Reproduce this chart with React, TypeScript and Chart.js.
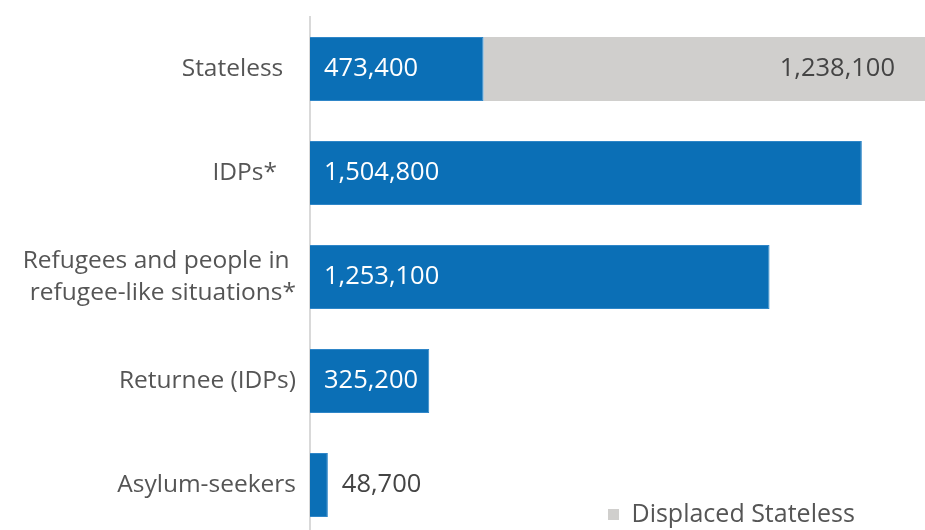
import React, { useEffect, useRef } from "react";
import { Chart, registerables } from "chart.js";

Chart.register(...registerables);

const categories: (string | string[])[] = [
  "Stateless  ",
  "IDPs*   ",
  ["Refugees and people in ", "refugee-like situations*"],
  "Returnee (IDPs)",
  "Asylum-seekers",
];
const mainValues = [473400, 1504800, 1253100, 325200, 48700];
const displacedStateless = [1238100, 0, 0, 0, 0];
const xMax = 1677000;

const FONT = "'Open Sans', sans-serif";
const BLUE = "#0B6FB6";
const GREY = "#D0CFCD";
const TEXT = "#555555";

const labelPlugin = {
  id: "barLabels",
  afterDatasetsDraw(chart: any) {
    const ctx = chart.ctx;
    const area = chart.chartArea;
    ctx.save();
    ctx.font = `25.5px ${FONT}`;
    ctx.textBaseline = "middle";
    chart.data.datasets.forEach((ds: any, di: number) => {
      const meta = chart.getDatasetMeta(di);
      meta.data.forEach((bar: any, i: number) => {
        const v = ds.data[i];
        if (!v) return;
        const txt = v.toLocaleString("en-US");
        const w = ctx.measureText(txt).width;
        const left = Math.min(bar.base, bar.x);
        const right = Math.min(Math.max(bar.base, bar.x), area.right);
        if (di === 0) {
          if (right - left > w + 20) {
            ctx.fillStyle = "#ffffff";
            ctx.textAlign = "left";
            ctx.fillText(txt, left + 14, bar.y);
          } else {
            ctx.fillStyle = "#444444";
            ctx.textAlign = "left";
            ctx.fillText(txt, right + 14, bar.y);
          }
        } else {
          ctx.fillStyle = "#444444";
          ctx.textAlign = "right";
          ctx.fillText(txt, right - 30, bar.y);
        }
      });
    });
    ctx.restore();
  },
};

const legendMover = {
  id: "legendMover",
  afterLayout(chart: any) {
    const lg = chart.legend;
    if (!lg) return;
    const w = lg.width;
    const h = lg.height;
    lg.left = 598;
    lg.right = 598 + w;
    lg.top = 492;
    lg.bottom = 492 + h;
  },
};

export default function App() {
  const ref = useRef<HTMLCanvasElement | null>(null);
  useEffect(() => {
    if (!ref.current) return;
    const chart = new Chart(ref.current, {
      type: "bar",
      data: {
        labels: categories,
        datasets: [
          {
            label: "Population",
            data: mainValues,
            backgroundColor: BLUE,
            borderColor: "#2F86C8",
            borderWidth: 1,
          },
          {
            label: "Displaced Stateless",
            data: displacedStateless,
            backgroundColor: GREY,
            borderWidth: 0,
          },
        ],
      },
      options: {
        indexAxis: "y",
        animation: false,
        responsive: false,
        maintainAspectRatio: false,
        layout: { padding: { top: 17, right: 0, bottom: 0, left: 0 } },
        datasets: {
          bar: { categoryPercentage: 1, barPercentage: 0.615 },
        },
        scales: {
          x: {
            stacked: true,
            display: false,
            min: 0,
            max: xMax,
          },
          y: {
            stacked: true,
            grid: { display: false, drawTicks: false },
            border: { display: true, color: "#D9D9D9", width: 2 },
            ticks: {
              color: TEXT,
              padding: 14,
              font: { family: FONT, size: 24.5, lineHeight: 1.3 },
            },
            afterFit: (scale: any) => {
              scale.width = 310;
              scale.paddingTop = 0;
              scale.paddingBottom = 0;
            },
          },
        },
        plugins: {
          legend: {
            position: "chartArea",
            align: "start",
            labels: {
              filter: (item: any) => item.text === "Displaced Stateless",
              boxWidth: 11,
              boxHeight: 11,
              padding: 10,
              color: TEXT,
              font: { family: FONT, size: 25 },
            },
          },
          tooltip: { enabled: false },
        },
      },
      plugins: [labelPlugin, legendMover],
    });
    return () => chart.destroy();
  }, []);
  return (
    <div
      style={{
        position: "fixed",
        left: 0,
        top: 0,
        width: 925,
        height: 530,
        overflow: "hidden",
        background: "#fff",
      }}
    >
      <canvas ref={ref} width={925} height={537} style={{ display: "block" }} />
    </div>
  );
}
